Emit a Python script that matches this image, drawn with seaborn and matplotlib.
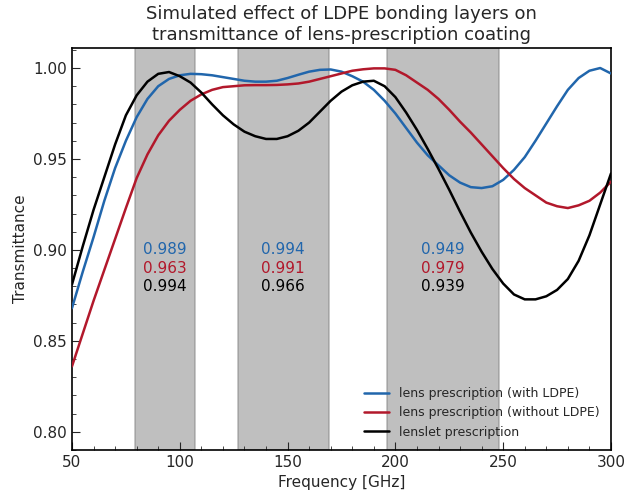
import numpy as np
import pandas as pd
import matplotlib
matplotlib.use("Agg")
import matplotlib.pyplot as plt
import seaborn as sns

# frequency grid [GHz]
freq = list(range(50, 301, 5))

# transmittance
t_with_ldpe = [0.868, 0.888, 0.907, 0.927, 0.945, 0.960, 0.973, 0.983, 0.990, 0.994,
               0.996, 0.9968, 0.9966, 0.996, 0.995, 0.994, 0.993, 0.9925, 0.9925, 0.993,
               0.9945, 0.9963, 0.998, 0.999, 0.9992, 0.998, 0.9955, 0.9925, 0.988, 0.982,
               0.975, 0.967, 0.959, 0.952, 0.9465, 0.941, 0.937, 0.9345, 0.934, 0.935,
               0.9385, 0.944, 0.951, 0.960, 0.9695, 0.979, 0.988, 0.9945, 0.9985, 1.000,
               0.997]
t_without_ldpe = [0.836, 0.854, 0.872, 0.889, 0.906, 0.923, 0.9395, 0.9525, 0.963, 0.971,
                  0.977, 0.982, 0.9855, 0.988, 0.9895, 0.990, 0.9905, 0.9906, 0.9906, 0.9907,
                  0.991, 0.9915, 0.9925, 0.994, 0.9955, 0.997, 0.9985, 0.9993, 0.9998, 0.9998,
                  0.999, 0.996, 0.992, 0.988, 0.983, 0.977, 0.9705, 0.9645, 0.958, 0.9515,
                  0.945, 0.939, 0.934, 0.930, 0.926, 0.924, 0.923, 0.9245, 0.927, 0.9315,
                  0.9375]
t_lenslet = [0.881, 0.902, 0.922, 0.940, 0.958, 0.974, 0.985, 0.9925, 0.9968, 0.9978,
             0.9955, 0.992, 0.9865, 0.980, 0.974, 0.969, 0.965, 0.9625, 0.961, 0.961,
             0.9625, 0.9655, 0.970, 0.976, 0.982, 0.987, 0.9905, 0.9925, 0.993, 0.990,
             0.984, 0.9755, 0.966, 0.9555, 0.9445, 0.933, 0.921, 0.9095, 0.899, 0.8895,
             0.8815, 0.8755, 0.8728, 0.8728, 0.8745, 0.878, 0.884, 0.894, 0.908, 0.925,
             0.942]

series_names = ["lens prescription (with LDPE)", "lens prescription (without LDPE)",
                "lenslet prescription"]
series_colors = ["#2166ac", "#b2182b", "black"]

# observing bands [GHz] and band-averaged values
bands = [(79, 107), (127, 169), (196, 248)]
band_with = ["0.989", "0.994", "0.949"]
band_without = ["0.963", "0.991", "0.979"]
band_lenslet = ["0.994", "0.966", "0.939"]

df = pd.DataFrame({
    "Frequency [GHz]": freq * 3,
    "Transmittance": t_with_ldpe + t_without_ldpe + t_lenslet,
    "curve": [series_names[0]] * len(freq) + [series_names[1]] * len(freq)
             + [series_names[2]] * len(freq),
})

sns.set_style("white")
plt.rcParams["font.family"] = ["DejaVu Sans"]

fig, ax = plt.subplots(figsize=(6.26, 4.95), dpi=100)
fig.subplots_adjust(left=0.115, right=0.976, bottom=0.091, top=0.903)

for lo, hi in bands:
    ax.axvspan(lo, hi, facecolor="gray", edgecolor="gray", alpha=0.5, lw=1.2, zorder=0)

sns.lineplot(data=df, x="Frequency [GHz]", y="Transmittance", hue="curve",
             palette=dict(zip(series_names, series_colors)), lw=1.8, ax=ax, zorder=3)

for (lo, hi), a, b, c in zip(bands, band_with, band_without, band_lenslet):
    xc = (lo + hi) / 2
    ax.text(xc, 0.900, a, color=series_colors[0], ha="center", va="center", fontsize=11)
    ax.text(xc, 0.890, b, color=series_colors[1], ha="center", va="center", fontsize=11)
    ax.text(xc, 0.880, c, color=series_colors[2], ha="center", va="center", fontsize=11)

ax.set_xlim(50, 300)
ax.set_ylim(0.79, 1.011)
ax.set_xticks([50, 100, 150, 200, 250, 300])
ax.set_yticks([0.80, 0.85, 0.90, 0.95, 1.00])
ax.set_xticks(np.arange(50, 301, 10), minor=True)
ax.set_yticks(np.arange(0.79, 1.011, 0.01), minor=True)
ax.tick_params(which="both", direction="in", left=True, bottom=True, labelsize=11)
ax.tick_params(which="major", length=6)
ax.tick_params(which="minor", length=3)
for s in ax.spines.values():
    s.set_color("black")
    s.set_linewidth(1.2)

ax.set_xlabel("Frequency [GHz]", fontsize=11)
ax.set_ylabel("Transmittance", fontsize=11)
ax.set_title("Simulated effect of LDPE bonding layers on\ntransmittance of lens-prescription coating",
             fontsize=13)
ax.legend(loc="lower right", frameon=False, fontsize=9, title=None)

fig.savefig("out.png", dpi=100)
